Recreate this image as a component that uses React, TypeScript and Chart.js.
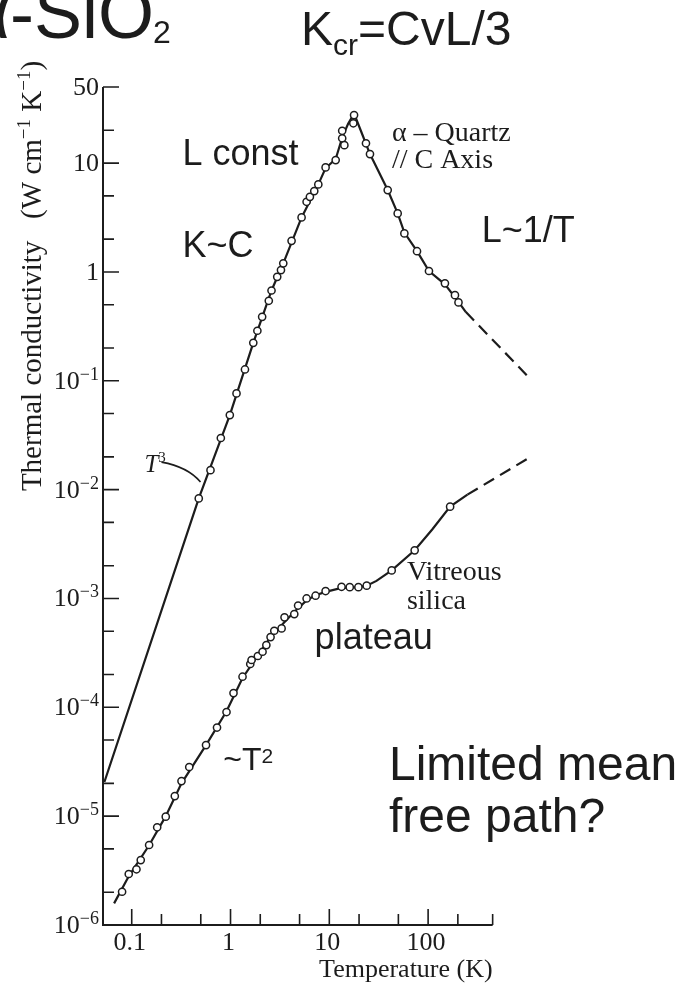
import React, { useEffect, useRef } from "react";
import { Chart, registerables } from "chart.js";

Chart.register(...registerables);

const SANS = '"Liberation Sans", Arial, sans-serif';
const SERIF = '"Liberation Serif", "Times New Roman", serif';
const INK = "#1c1c1c";

// Log-log axes: temperature (K) and thermal conductivity (W cm^-1 K^-1)
const T_MIN = 0.0512;
const T_MAX = 1100;
const T_AXIS_END = 450;
const K_MIN = 1e-6;
const K_MAX = 50;

const T_MAJOR = [0.1, 1, 10, 100];
const T_MAJOR_LABELS = ["0.1", "1", "10", "100"];
const T_MINOR = [0.2, 0.5, 2, 5, 20, 50, 200, 450];

const K_MAJOR = [1e-6, 1e-5, 1e-4, 1e-3, 1e-2, 1e-1, 1, 10, 50];
const K_MAJOR_BASE = ["10", "10", "10", "10", "10", "10", "1", "10", "50"];
const K_MAJOR_EXP = ["\u22126", "\u22125", "\u22124", "\u22123", "\u22122", "\u22121", "", "", ""];
const K_MINOR = [2e-6, 5e-6, 2e-5, 5e-5, 2e-4, 5e-4, 2e-3, 5e-3, 2e-2, 5e-2, 0.2, 0.5, 2, 5, 20];

// alpha-quartz, heat flow along the c axis: measured points
const QUARTZ_T = [0.477, 0.627, 0.798, 0.984, 1.15, 1.4, 1.7, 1.87, 2.09, 2.44, 2.6, 2.97, 3.24, 3.42, 4.15, 5.24, 5.89, 6.36, 7.04, 7.74, 9.17, 11.6, 13.5, 13.5, 14.2, 17.5, 17.8, 23.5, 25.8, 39.0, 49.2, 57.5, 77.2, 102, 148, 187, 203];
const QUARTZ_K = [0.0083, 0.0151, 0.0298, 0.0484, 0.0765, 0.127, 0.223, 0.288, 0.387, 0.543, 0.675, 0.902, 1.04, 1.2, 1.93, 3.17, 4.41, 4.9, 5.53, 6.37, 9.12, 10.65, 19.8, 16.9, 14.6, 23.2, 27.6, 15.2, 12.1, 5.65, 3.45, 2.26, 1.55, 1.02, 0.785, 0.612, 0.525];

// smooth curve through the quartz data (T^3 law below 0.5 K)
const QUARTZ_FIT_T = [0.0529, 0.477, 0.984, 1.7, 2.6, 3.42, 5.24, 7.74, 9.17, 11.6, 13.6, 15.5, 17.8, 21, 25.8, 39, 49.2, 57.5, 77.2, 102, 148, 203, 240];
const QUARTZ_FIT_K = [2.06e-5, 0.0083, 0.0484, 0.223, 0.675, 1.2, 3.17, 6.37, 9.0, 10.9, 17.5, 23, 28.5, 19.5, 12.1, 5.65, 3.45, 2.3, 1.55, 1.02, 0.77, 0.53, 0.43];

// extrapolation to high temperature (dashed)
const QUARTZ_EXT_T = [240, 1040];
const QUARTZ_EXT_K = [0.43, 0.108];

// vitreous silica: measured points
const SILICA_T = [0.0799, 0.0933, 0.1117, 0.1234, 0.15, 0.181, 0.221, 0.273, 0.319, 0.382, 0.565, 0.73, 0.911, 1.072, 1.323, 1.584, 1.633, 1.891, 2.11, 2.305, 2.543, 2.773, 3.29, 3.52, 4.42, 4.83, 5.89, 7.26, 9.17, 13.3, 16.1, 19.7, 23.9, 42.8, 73.1, 167];
const SILICA_K = [2.02e-6, 2.94e-6, 3.25e-6, 3.95e-6, 5.43e-6, 7.9e-6, 9.89e-6, 1.53e-5, 2.1e-5, 2.83e-5, 4.5e-5, 6.52e-5, 9.05e-5, 1.35e-4, 1.91e-4, 2.5e-4, 2.72e-4, 2.96e-4, 3.24e-4, 3.73e-4, 4.42e-4, 5.05e-4, 5.31e-4, 6.71e-4, 7.19e-4, 8.61e-4, 1.0e-3, 1.06e-3, 1.17e-3, 1.28e-3, 1.27e-3, 1.27e-3, 1.31e-3, 1.81e-3, 2.77e-3, 6.97e-3];

const SILICA_FIT_T = [0.0663, 0.0933, 0.15, 0.221, 0.319, 0.565, 0.911, 1.32, 1.89, 2.54, 3.3, 4.4, 5.89, 7.26, 9.17, 13.3, 19.7, 23.9, 30, 42.8, 73.1, 110, 167, 250];
const SILICA_FIT_K = [1.58e-6, 2.8e-6, 5.4e-6, 1.0e-5, 2.0e-5, 4.5e-5, 9.2e-5, 1.85e-4, 3.0e-4, 4.4e-4, 5.7e-4, 7.5e-4, 9.6e-4, 1.07e-3, 1.15e-3, 1.25e-3, 1.27e-3, 1.31e-3, 1.45e-3, 1.81e-3, 2.77e-3, 4.3e-3, 6.97e-3, 9.0e-3];

const SILICA_EXT_T = [250, 1040];
const SILICA_EXT_K = [9.0e-3, 0.0195];

const pts = (xs: number[], ys: number[]) => xs.map((x, i) => ({ x, y: ys[i] }));

type Run = { text: string; font: string; dy?: number };

function drawRuns(ctx: CanvasRenderingContext2D, runs: Run[], x: number, y: number, align: "left" | "right" | "center") {
  let total = 0;
  for (const r of runs) {
    ctx.font = r.font;
    total += ctx.measureText(r.text).width;
  }
  let cx = align === "left" ? x : align === "right" ? x - total : x - total / 2;
  ctx.textAlign = "left";
  for (const r of runs) {
    ctx.font = r.font;
    ctx.fillText(r.text, cx, y + (r.dy || 0));
    cx += ctx.measureText(r.text).width;
  }
}

const decorations = {
  id: "decorations",
  afterDatasetsDraw(chart: Chart) {
    const ctx = chart.ctx;
    const xs = chart.scales.x;
    const ys = chart.scales.y;
    const px = (t: number) => xs.getPixelForValue(t);
    const py = (k: number) => ys.getPixelForValue(k);
    const x0 = px(T_MIN);
    const yB = py(K_MIN);
    const yT = py(K_MAX);

    ctx.save();
    ctx.strokeStyle = INK;
    ctx.fillStyle = INK;
    ctx.textBaseline = "alphabetic";

    // left and bottom axis lines
    ctx.lineWidth = 2;
    ctx.beginPath();
    ctx.moveTo(x0, yT);
    ctx.lineTo(x0, yB);
    ctx.lineTo(px(T_AXIS_END), yB);
    ctx.stroke();

    // ticks point into the plot
    ctx.lineWidth = 1.6;
    ctx.beginPath();
    K_MAJOR.forEach((k) => {
      const y = py(k);
      ctx.moveTo(x0, y);
      ctx.lineTo(x0 + 16, y);
    });
    K_MINOR.forEach((k) => {
      const y = py(k);
      ctx.moveTo(x0, y);
      ctx.lineTo(x0 + 11, y);
    });
    T_MAJOR.forEach((t) => {
      const x = px(t);
      ctx.moveTo(x, yB);
      ctx.lineTo(x, yB - 16);
    });
    T_MINOR.forEach((t) => {
      const x = px(t);
      ctx.moveTo(x, yB);
      ctx.lineTo(x, yB - 11);
    });
    ctx.stroke();

    // tick labels
    const tickFont = `26px ${SERIF}`;
    const expFont = `18px ${SERIF}`;
    T_MAJOR.forEach((t, i) => {
      drawRuns(ctx, [{ text: T_MAJOR_LABELS[i], font: tickFont }], px(t) - 2, yB + 25, "center");
    });
    K_MAJOR.forEach((k, i) => {
      const runs: Run[] = [{ text: K_MAJOR_BASE[i], font: tickFont }];
      if (K_MAJOR_EXP[i]) runs.push({ text: K_MAJOR_EXP[i], font: expFont, dy: -9 });
      drawRuns(ctx, runs, x0 - 4, py(k) + 8, "right");
    });

    // axis titles
    drawRuns(ctx, [{ text: "Temperature (K)", font: `26px ${SERIF}` }], px(T_AXIS_END), yB + 52, "right");
    ctx.save();
    ctx.translate(41, (yT + yB) / 2 - 230);
    ctx.rotate(-Math.PI / 2);
    drawRuns(
      ctx,
      [
        { text: "Thermal conductivity   (W cm", font: `29px ${SERIF}` },
        { text: "\u22121", font: `19px ${SERIF}`, dy: -11 },
        { text: " K", font: `29px ${SERIF}` },
        { text: "\u22121", font: `19px ${SERIF}`, dy: -11 },
        { text: ")", font: `29px ${SERIF}` },
      ],
      0,
      0,
      "center"
    );
    ctx.restore();

    // T^3 label with its leader to the quartz curve
    drawRuns(
      ctx,
      [
        { text: "T", font: `italic 25px ${SERIF}` },
        { text: "3", font: `15px ${SERIF}`, dy: -10 },
      ],
      px(0.1345),
      py(0.0146),
      "left"
    );
    ctx.lineWidth = 1.6;
    ctx.beginPath();
    ctx.moveTo(px(0.2), py(0.0179));
    ctx.quadraticCurveTo(px(0.37), py(0.0162), px(0.497), py(0.01174));
    ctx.stroke();

    // curve annotations
    const note = `36px ${SANS}`;
    drawRuns(ctx, [{ text: "L const", font: note }], px(0.326), py(9.6), "left");
    drawRuns(ctx, [{ text: "K~C", font: note }], px(0.326), py(1.37), "left");
    drawRuns(ctx, [{ text: "L~1/T", font: note }], px(349), py(1.88), "left");
    drawRuns(ctx, [{ text: "plateau", font: note }], px(7.1), py(3.43e-4), "left");
    drawRuns(
      ctx,
      [
        { text: "~T", font: `32px ${SANS}` },
        { text: "2", font: `21px ${SANS}`, dy: -7 },
      ],
      px(0.844),
      py(2.65e-5),
      "left"
    );

    const label = `28px ${SERIF}`;
    const qx = px(43);
    const qy = py(15.9);
    drawRuns(ctx, [{ text: "\u03b1 \u2013 Quartz", font: label }], qx, qy, "left");
    drawRuns(ctx, [{ text: "// C Axis", font: label }], qx, qy + 27, "left");
    const vx = px(61);
    const vy = py(1.47e-3);
    drawRuns(ctx, [{ text: "Vitreous", font: label }], vx, vy, "left");
    drawRuns(ctx, [{ text: "silica", font: label }], vx, vy + 29, "left");

    // headline texts
    drawRuns(ctx, [{ text: "\u03b1-SiO", font: `72px ${SANS}` }], 154, 38, "right");
    drawRuns(ctx, [{ text: "2", font: `32px ${SANS}` }], 153, 43, "left");
    drawRuns(
      ctx,
      [
        { text: "K", font: `48px ${SANS}` },
        { text: "cr", font: `30px ${SANS}`, dy: 10 },
        { text: "=CvL/3", font: `48px ${SANS}` },
      ],
      301,
      45,
      "left"
    );
    drawRuns(ctx, [{ text: "Limited mean", font: `48px ${SANS}` }], 389, 780, "left");
    drawRuns(ctx, [{ text: "free path?", font: `48px ${SANS}` }], 389, 832, "left");

    ctx.restore();
  },
};

export default function App() {
  const canvasRef = useRef<HTMLCanvasElement>(null);

  useEffect(() => {
    const canvas = canvasRef.current;
    if (!canvas) return;
    const marker = {
      showLine: false,
      pointRadius: 3.6,
      pointBorderWidth: 1.5,
      pointBackgroundColor: "#ffffff",
      pointBorderColor: INK,
      order: 0,
    };
    const solid = {
      showLine: true,
      pointRadius: 0,
      borderColor: INK,
      borderWidth: 2.2,
      tension: 0,
      order: 1,
    };
    const dashed = { ...solid, borderDash: [12, 7] };

    const chart = new Chart(canvas, {
      type: "scatter",
      data: {
        datasets: [
          { label: "alpha-quartz", data: pts(QUARTZ_T, QUARTZ_K), ...marker },
          { label: "vitreous silica", data: pts(SILICA_T, SILICA_K), ...marker },
          { label: "alpha-quartz fit", data: pts(QUARTZ_FIT_T, QUARTZ_FIT_K), ...solid },
          { label: "alpha-quartz extrapolated", data: pts(QUARTZ_EXT_T, QUARTZ_EXT_K), ...dashed },
          { label: "vitreous silica fit", data: pts(SILICA_FIT_T, SILICA_FIT_K), ...solid },
          { label: "vitreous silica extrapolated", data: pts(SILICA_EXT_T, SILICA_EXT_K), ...dashed },
        ],
      },
      options: {
        responsive: false,
        animation: false,
        devicePixelRatio: 1,
        events: [],
        layout: { padding: { left: 103, top: 87, right: 150, bottom: 62 } },
        plugins: { legend: { display: false }, tooltip: { enabled: false } },
        scales: {
          x: { type: "logarithmic", min: T_MIN, max: T_MAX, display: false },
          y: { type: "logarithmic", min: K_MIN, max: K_MAX, display: false },
        },
      },
      plugins: [decorations],
    } as any);
    return () => chart.destroy();
  }, []);

  return (
    <div style={{ position: "fixed", left: 0, top: 0, width: 681, height: 987, background: "#ffffff" }}>
      <canvas ref={canvasRef} width={681} height={987} style={{ width: 681, height: 987, display: "block" }} />
    </div>
  );
}
